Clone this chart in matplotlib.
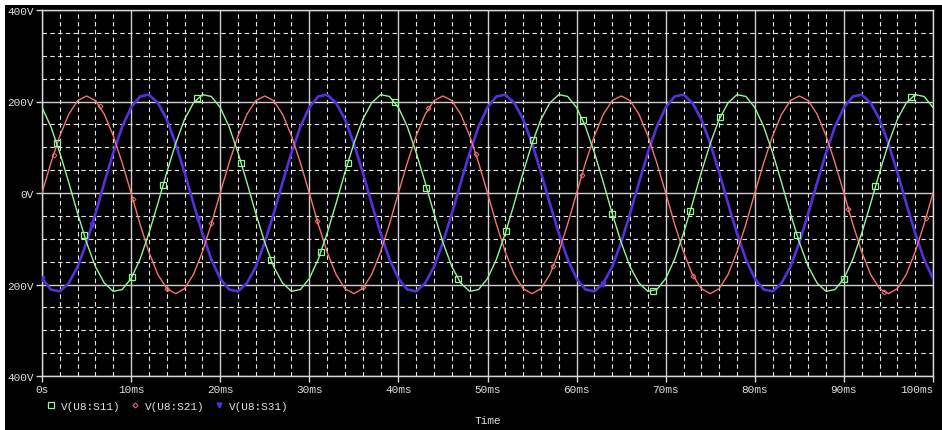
import numpy as np
import matplotlib
matplotlib.use("Agg")
import matplotlib.pyplot as plt
from matplotlib.lines import Line2D
from matplotlib.patches import Rectangle

# time axis in ms, one sample per ms
t_ms = list(range(0, 101))

# V(U8:S11) - green
v_s11 = [187, 145, 88, 23, -45, -108, -161, -197, -215, -211, -187, -145, -88, -23, 45, 108, 161, 197, 215, 211,
         187, 145, 88, 23, -45, -108, -161, -197, -215, -211, -187, -145, -88, -23, 45, 108, 161, 197, 215, 211,
         187, 145, 88, 23, -45, -108, -161, -197, -215, -211, -187, -145, -88, -23, 45, 108, 161, 197, 215, 211,
         187, 145, 88, 23, -45, -108, -161, -197, -215, -211, -187, -145, -88, -23, 45, 108, 161, 197, 215, 211,
         187, 145, 88, 23, -45, -108, -161, -197, -215, -211, -187, -145, -88, -23, 45, 108, 161, 197, 215, 211,
         187]

# V(U8:S21) - red
v_s21 = [0, 66, 125, 172, 202, 212, 202, 172, 125, 66, 0, -68, -129, -178, -209, -220, -209, -178, -129, -68,
         0, 66, 125, 172, 202, 212, 202, 172, 125, 66, 0, -68, -129, -178, -209, -220, -209, -178, -129, -68,
         0, 66, 125, 172, 202, 212, 202, 172, 125, 66, 0, -68, -129, -178, -209, -220, -209, -178, -129, -68,
         0, 66, 125, 172, 202, 212, 202, 172, 125, 66, 0, -68, -129, -178, -209, -220, -209, -178, -129, -68,
         0, 66, 125, 172, 202, 212, 202, 172, 125, 66, 0, -68, -129, -178, -209, -220, -209, -178, -129, -68,
         0]

# V(U8:S31) - blue
v_s31 = [-187, -211, -215, -197, -161, -108, -45, 23, 88, 145, 187, 211, 215, 197, 161, 108, 45, -23, -88, -145,
         -187, -211, -215, -197, -161, -108, -45, 23, 88, 145, 187, 211, 215, 197, 161, 108, 45, -23, -88, -145,
         -187, -211, -215, -197, -161, -108, -45, 23, 88, 145, 187, 211, 215, 197, 161, 108, 45, -23, -88, -145,
         -187, -211, -215, -197, -161, -108, -45, 23, 88, 145, 187, 211, 215, 197, 161, 108, 45, -23, -88, -145,
         -187, -211, -215, -197, -161, -108, -45, 23, 88, 145, 187, 211, 215, 197, 161, 108, 45, -23, -88, -145,
         -187]

# marker positions (PSpice symbols along each trace)
mk_s11_t = [1.65, 4.7, 10.1, 13.6, 17.4, 22.3, 25.7, 31.3, 34.3, 39.6, 43.1, 46.7, 52.1, 55.1, 60.7, 64.0,
            68.6, 72.7, 76.1, 84.7, 90.0, 93.5, 97.5]
mk_s11_v = [110, -91, -184, 17, 207, 66, -146, -130, 65, 200, 12, -188, -83, 116, 159, -45,
            -215, -40, 166, -91, -187, 15, 209]
mk_s21_t = [1.35, 6.5, 10.2, 14.0, 19.0, 30.9, 36.0, 43.3, 48.7, 57.4, 60.6, 73.1, 90.5, 94.5, 99.2]
mk_s21_v = [82, 190, -14, -209, -66, -61, -206, 185, 85, -160, 40, -181, -34, -216, -54]
mk_s31_t = [0.0, 5.6, 17.5, 63.0]
mk_s31_v = [-187, -71, -56, -199]

labels = ["V(U8:S11)", "V(U8:S21)", "V(U8:S31)"]
colors = ["#98f498", "#f47472", "#5630dc"]

x_ticks = [0, 10, 20, 30, 40, 50, 60, 70, 80, 90, 100]
x_tick_labels = ["0s", "10ms", "20ms", "30ms", "40ms", "50ms", "60ms", "70ms", "80ms", "90ms", "100ms"]
y_ticks = [-400, -200, 0, 200, 400]
y_tick_labels = ["400V", "200V", "0V", "200V", "400V"]

mono = "Liberation Mono"
txt = "#e2e2e2"

fig = plt.figure(figsize=(9.42, 4.31), dpi=100, facecolor="white")
fig.patches.append(Rectangle((5 / 942, 0), 1, 1 - 6 / 431, transform=fig.transFigure,
                             facecolor="black", edgecolor="none", zorder=-10))

ax = fig.add_axes([42 / 942, 1 - 377 / 431, (933 - 42) / 942, (377 - 11) / 431])
ax.set_facecolor("black")

ax.plot(t_ms, v_s31, color=colors[2], lw=1.9, zorder=3)
ax.plot(t_ms, v_s21, color=colors[1], lw=1.0, zorder=4)
ax.plot(t_ms, v_s11, color=colors[0], lw=1.0, zorder=5)

ax.plot(mk_s11_t, mk_s11_v, ls="none", marker="s", ms=3.8, mfc="none", mec=colors[0], mew=0.9, zorder=6)
ax.plot(mk_s21_t, mk_s21_v, ls="none", marker="D", ms=2.5, mfc="none", mec=colors[1], mew=0.7, zorder=6)
ax.plot(mk_s31_t, mk_s31_v, ls="none", marker="v", ms=3.5, mfc=colors[2], mec=colors[2], zorder=6)

ax.set_xlim(0, 100)
ax.set_ylim(-400, 400)
ax.set_xticks(x_ticks)
ax.set_xticklabels(x_tick_labels)
ax.set_yticks(y_ticks)
ax.set_yticklabels(y_tick_labels)
ax.set_xticks(np.arange(0, 101, 2), minor=True)
ax.set_yticks(np.arange(-400, 401, 50), minor=True)

ax.grid(which="major", color="#cfcfcf", ls="-", lw=1.0, zorder=1)
ax.grid(which="minor", color="#e6e6e6", ls=(0, (4, 3)), lw=0.8, zorder=1)
ax.set_axisbelow(True)

for s in ax.spines.values():
    s.set_color("#d8d8d8")
    s.set_linewidth(1.0)

ax.tick_params(which="major", direction="out", length=4, width=1, color="#d8d8d8",
               labelcolor=txt, labelsize=8, pad=2)
ax.tick_params(which="minor", length=0)
for lab in ax.get_xticklabels() + ax.get_yticklabels():
    lab.set_family(mono)
ax.get_xticklabels()[-1].set_horizontalalignment("right")

ax.set_xlabel("Time", family=mono, fontsize=8, color=txt, labelpad=15)

handles = [
    Line2D([], [], ls="none", marker="s", ms=3.8, mfc="none", mec=colors[0], mew=0.9),
    Line2D([], [], ls="none", marker="D", ms=2.5, mfc="none", mec=colors[1], mew=0.7),
    Line2D([], [], ls="none", marker="v", ms=3.5, mfc=colors[2], mec=colors[2]),
]
fig.legend(handles, labels, loc="center left", bbox_to_anchor=(35.5 / 942, 1 - 407 / 431),
           ncol=3, frameon=False, prop={"family": mono, "size": 8}, labelcolor=txt,
           handlelength=1.0, handletextpad=0.4, columnspacing=0.8, borderpad=0.4)

fig.savefig("out.png", dpi=100, facecolor=fig.get_facecolor())
